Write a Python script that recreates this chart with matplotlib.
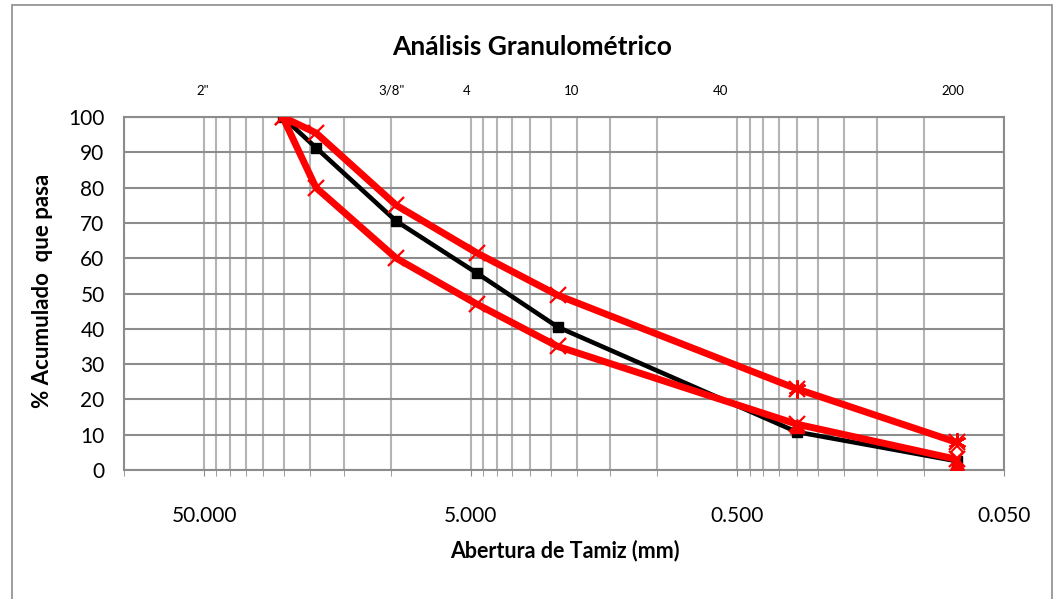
import numpy as np
import matplotlib
matplotlib.use("Agg")
import matplotlib.pyplot as plt
from matplotlib.ticker import FixedLocator, LogLocator, FuncFormatter, NullFormatter
from matplotlib.patches import Rectangle

# Aberturas de tamiz (mm): 1", 3/4", 3/8", N4, N8, N50, N200
abertura = [25.4, 19.05, 9.525, 4.75, 2.36, 0.3, 0.075]
muestra = [100, 91.3, 70.5, 55.8, 40.5, 10.8, 2.5]
lim_sup = [100, 95.5, 75, 61.5, 49.5, 23, 7.8]
lim_inf = [100, 80, 60, 47, 35, 13, 3]

# marcadores extra en los finos
finos_x = [0.3, 0.075]
finos_sup = [23, 8]
finos_inf = [12.5, 2]
diam_x = [0.075]
diam_y = [5]

# tamices en el eje superior
tamiz_lbl = ['2"', '3/8"', '4', '10', '40', '200']
tamiz_pos = [50.8, 9.9, 5.2, 2.1, 0.58, 0.078]

fam = ['Lato', 'DejaVu Sans']
plt.rcParams['font.family'] = fam

fig = plt.figure(figsize=(10.53, 5.99), dpi=100)
ax = fig.add_axes([124 / 1053, 1 - 470 / 599, (1004 - 124) / 1053, (470 - 117) / 599])

ax.plot(abertura, muestra, color='black', lw=3.3, marker='s', ms=7.5, zorder=3)
ax.plot(abertura, lim_sup, color='red', lw=5, marker='x', ms=11, mew=1.6, zorder=4)
ax.plot(abertura, lim_inf, color='red', lw=5, marker='x', ms=11, mew=1.6, zorder=4)
ax.plot(finos_x, finos_sup, ls='none', color='red', marker=(6, 2, 0), ms=13, mew=1.8, zorder=5)
ax.plot(finos_x, finos_inf, ls='none', color='red', marker='^', ms=10, zorder=5)
ax.plot(diam_x, diam_y, ls='none', color='red', marker='D', ms=6, mfc='white', mew=1.5, zorder=5)

ax.set_xscale('log')
ax.set_xlim(100, 0.05)
ax.set_ylim(0, 100)
ax.xaxis.set_major_locator(FixedLocator([50, 5, 0.5, 0.05]))
ax.xaxis.set_major_formatter(FuncFormatter(lambda v, p: f"{v:.3f}"))
ax.xaxis.set_minor_locator(LogLocator(base=10, subs=[1, 1.5, 2, 2.5, 3, 3.5, 4, 4.5], numticks=20))
ax.xaxis.set_minor_formatter(NullFormatter())
ax.set_yticks(np.arange(0, 101, 10))

ax.grid(True, which='major', axis='y', color='#8c8c8c', lw=1.5)
ax.grid(True, which='both', axis='x', color='#b4b4b4', lw=1.5)
ax.set_axisbelow(True)
for s in ax.spines.values():
    s.set_color('#8c8c8c')
    s.set_linewidth(1.5)
ax.tick_params(axis='x', which='both', length=4, color='#8c8c8c', labelsize=15, pad=22)
ax.tick_params(axis='y', length=0, labelsize=15, pad=14)

for lbl, pos in zip(tamiz_lbl, tamiz_pos):
    ax.text(pos, 107.5, lbl, ha='center', va='center', fontsize=9.5, family=fam)

fig.text(532 / 1053, 1 - 47 / 599, 'Análisis Granulométrico', ha='center', va='center',
         fontsize=19, fontweight='bold')
fig.text(565 / 1053, 1 - 551 / 599, 'Abertura de Tamiz (mm)', ha='center', va='center',
         fontsize=15.5, fontweight='bold')
fig.text(43 / 1053, 1 - 291 / 599, '% Acumulado  que pasa', ha='center', va='center',
         fontsize=16, fontweight='bold', rotation=90)

fig.patches.append(Rectangle((12 / 1053, -0.05), 1040 / 1053, 1.05 - 4.5 / 599,
                             transform=fig.transFigure, fill=False, ec='#8c8c8c', lw=1.2))

fig.savefig('out.png', dpi=100)
